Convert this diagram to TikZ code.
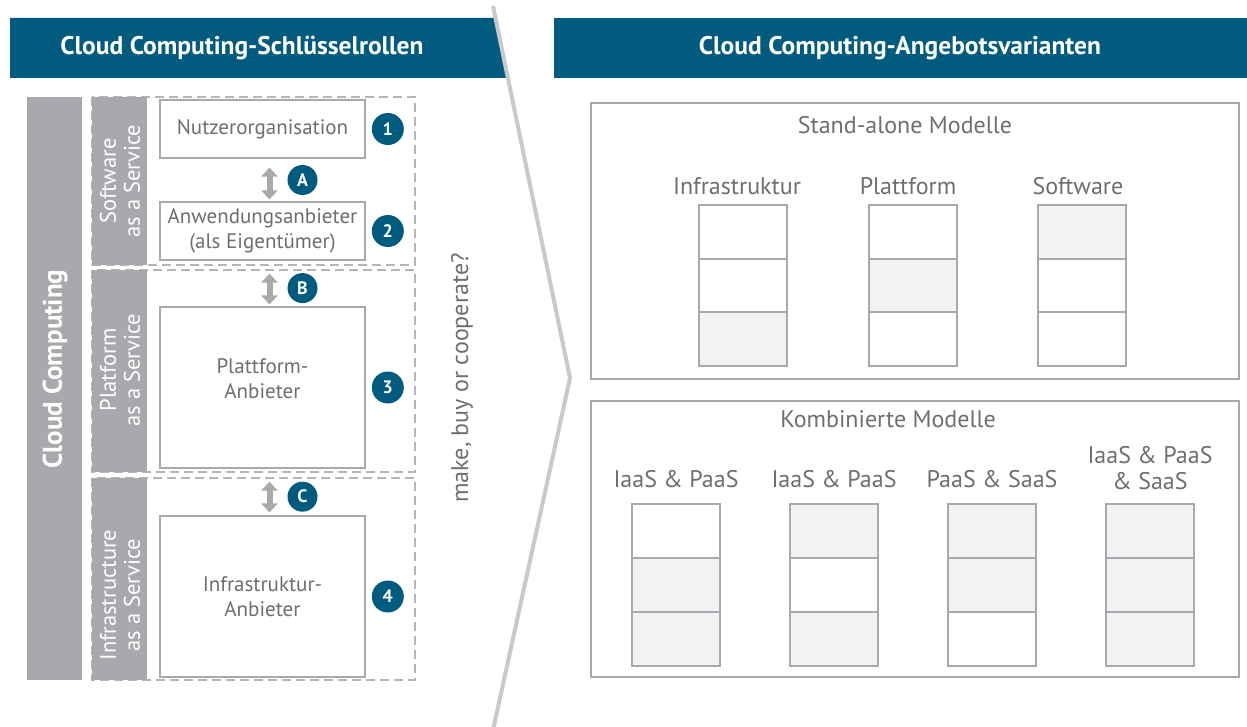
\documentclass[tikz,border=0pt]{standalone}
\usepackage{fontspec}
\setmainfont{PT Sans}
\usepackage{xcolor}
\usetikzlibrary{positioning,arrows.meta}
\definecolor{myteal}{HTML}{005B7F}
\definecolor{mygray}{HTML}{A7A9AC}
\definecolor{mydash}{HTML}{B3B5B8}
\definecolor{mytext}{HTML}{6D6E71}
\definecolor{mycell}{HTML}{F1F2F3}
\definecolor{myline}{HTML}{C8C9CB}
\tikzset{
  headtext/.style={text=white, font=\fontsize{25.5}{30}\selectfont\bfseries},
  bartext/.style={text=white, align=center, rotate=90, font=\fontsize{22.5}{24}\selectfont},
  rolebox/.style={draw=mygray, line width=1.2pt, fill=white, text=mytext, align=center,
    minimum width=205pt, font=\fontsize{21}{25}\selectfont},
  numdot/.style={circle, fill=myteal, text=white, inner sep=0pt, minimum size=32pt,
    font=\fontsize{18}{18}\selectfont\bfseries},
  dashbox/.style={draw=mydash, line width=2pt, dash pattern=on 9pt off 5pt},
  dblarrow/.style={mygray, line width=6pt,
    {Triangle[width=16pt,length=9pt]}-{Triangle[width=16pt,length=9pt]}},
  panel/.style={draw=mygray, line width=1.3pt},
  cell/.style={draw=mygray, line width=1.3pt},
  label/.style={text=mytext, align=center, font=\fontsize{24}{26}\selectfont}
}
\begin{document}
\begin{tikzpicture}[x=1pt,y=-1pt]
  \useasboundingbox (0,0) rectangle (1247,727);
  % headers
  \fill[myteal] (10,18) -- (495,18) -- (508,78) -- (10,78) -- cycle;
  \node[headtext] (lhead) at (242,48) {Cloud Computing-Schlüsselrollen};
  \fill[myteal] (554,18) rectangle (1247,78);
  \node[headtext] (rhead) at (900,48) {Cloud Computing-Angebotsvarianten};

  % chevron
  \draw[myline, line width=4pt] (493,6) -- (570,378) -- (493,730);
  \node[label, rotate=90] (mbc) at (462,378) {make, buy or cooperate?};

  % role layers
  \fill[mygray] (27,97) rectangle (82,680);
  \node[bartext, font=\fontsize{27}{27}\selectfont\bfseries] (cc) at (55,369) {Cloud Computing};
  \draw[dashbox] (92,97) rectangle (415,265);
  \draw[dashbox] (92,270) rectangle (415,472);
  \draw[dashbox] (92,478) rectangle (415,680);
  \fill[mygray] (92,97) rectangle (147,265);
  \fill[mygray] (92,270) rectangle (147,472);
  \fill[mygray] (92,478) rectangle (147,680);
  \node[bartext] (saas) at (120,181) {Software\\as a Service};
  \node[bartext] (paas) at (120,370) {Platform\\as a Service};
  \node[bartext] (iaas) at (120,595) {Infrastructure\\as a Service};

  % roles
  \node[rolebox, minimum height=58pt] (nutzer) at (262.5,129) {Nutzerorganisation};
  \node[rolebox, minimum height=58pt] (anwend) at (262.5,231) {Anwendungsanbieter\\(als Eigentümer)};
  \node[rolebox, minimum height=161pt, text depth=18pt] (plattf) at (262.5,387.5) {Plattform-\\Anbieter};
  \node[rolebox, minimum height=161pt] (infra) at (262.5,596.5) {Infrastruktur-\\Anbieter};
  \node[numdot, right=6pt of nutzer] (n1) {1};
  \node[numdot, right=6pt of anwend] (n2) {2};
  \node[numdot, right=6pt of plattf] (n3) {3};
  \node[numdot, right=6pt of infra] (n4) {4};

  % relations
  \draw[dblarrow, shorten <=9pt, shorten >=2pt] ([xshift=7pt]nutzer.south) -- ([xshift=7pt]anwend.north)
    node[numdot, midway, right=15pt, minimum size=30pt] (la) {A};
  \draw[dblarrow, shorten <=13pt, shorten >=2pt] ([xshift=7pt]anwend.south) -- ([xshift=7pt]plattf.north)
    node[numdot, pos=0.6, right=15pt, minimum size=30pt] (lb) {B};
  \draw[dblarrow, shorten <=13pt, shorten >=3pt] ([xshift=7pt]plattf.south) -- ([xshift=7pt]infra.north)
    node[numdot, pos=0.6, right=15pt, minimum size=30pt] (lc) {C};

  % stand-alone models
  \draw[panel] (591,103) rectangle (1239,379);
  \node[label] (stand) at (905,125) {Stand-alone Modelle};
  \node[label] (s1) at (737,186) {Infrastruktur};
  \node[label] (s2) at (908,186) {Plattform};
  \node[label] (s3) at (1078,186) {Software};
  \foreach \x/\ca/\cb/\cc in {699/white/white/mycell, 869/white/mycell/white, 1038/mycell/white/white}{
    \filldraw[cell, fill=\ca] (\x,205) rectangle ++(88,54);
    \filldraw[cell, fill=\cb] (\x,259) rectangle ++(88,53);
    \filldraw[cell, fill=\cc] (\x,312) rectangle ++(88,54);
  }

  % combined models
  \draw[panel] (591,401) rectangle (1239,677);
  \node[label] (komb) at (888,419) {Kombinierte Modelle};
  \node[label] (k1) at (676,479) {IaaS \& PaaS};
  \node[label] (k2) at (834,479) {IaaS \& PaaS};
  \node[label] (k3) at (992,479) {PaaS \& SaaS};
  \node[label] (k4) at (1150,468) {IaaS \& PaaS\\\& SaaS};
  \foreach \x/\ca/\cb/\cc in {632/white/mycell/mycell, 790/mycell/white/mycell,
                              948/mycell/mycell/white, 1106/mycell/mycell/mycell}{
    \filldraw[cell, fill=\ca] (\x,504) rectangle ++(88,54);
    \filldraw[cell, fill=\cb] (\x,558) rectangle ++(88,54);
    \filldraw[cell, fill=\cc] (\x,612) rectangle ++(88,54);
  }
\end{tikzpicture}
\end{document}
